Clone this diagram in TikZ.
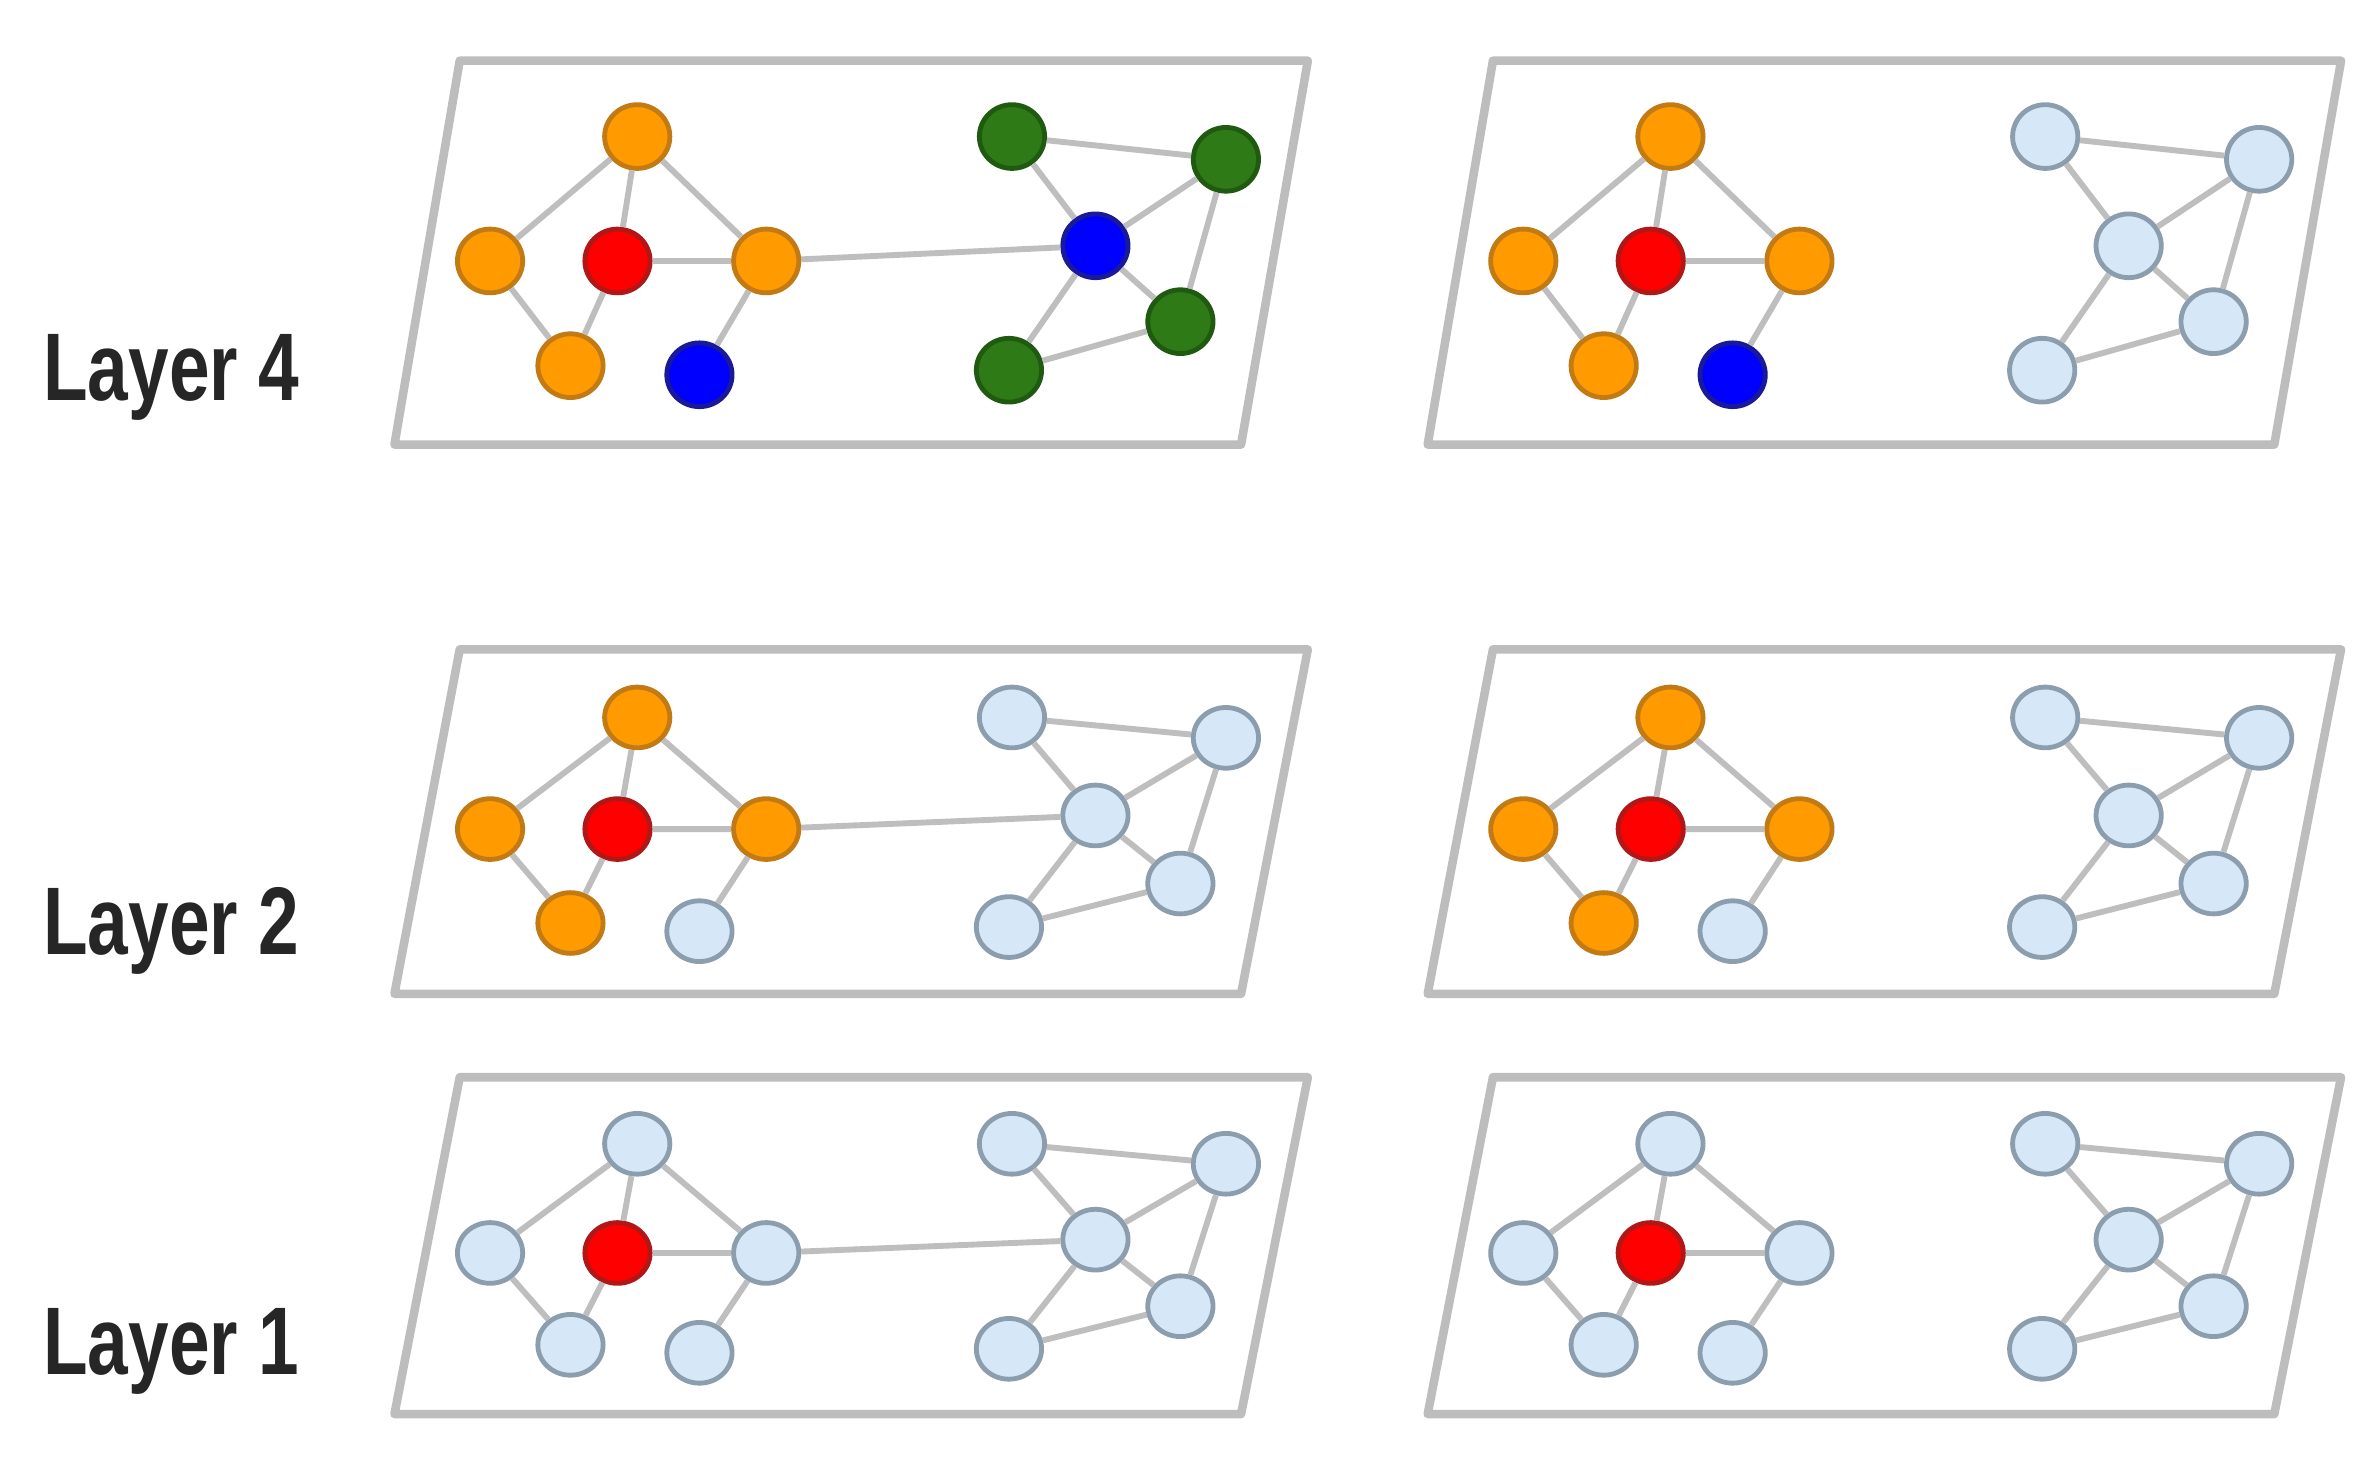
\documentclass[tikz,border=0pt]{standalone}
\usepackage{fontspec}
\setmainfont{Liberation Sans}
\usetikzlibrary{shapes.geometric}
\definecolor{orangeC}{HTML}{FF9A00}
\definecolor{orangeD}{HTML}{C27A14}
\definecolor{redC}{HTML}{FF0000}
\definecolor{redD}{HTML}{B01818}
\definecolor{blueC}{HTML}{0000FF}
\definecolor{blueD}{HTML}{1A1A99}
\definecolor{greenC}{HTML}{2E7A17}
\definecolor{greenD}{HTML}{1F5A10}
\definecolor{lightC}{HTML}{D6E7F7}
\definecolor{lightD}{HTML}{8C9DAE}
\definecolor{edgegray}{HTML}{BEBEBE}
\definecolor{planegray}{HTML}{BDBDBD}
\tikzset{
  gnode/.style={ellipse, draw, line width=0.9pt, inner sep=0pt, minimum width=0.43cm},
  orangen/.style={gnode, fill=orangeC, draw=orangeD},
  redn/.style={gnode, fill=redC, draw=redD},
  bluen/.style={gnode, fill=blueC, draw=blueD},
  greenn/.style={gnode, fill=greenC, draw=greenD},
  lightn/.style={gnode, fill=lightC, draw=lightD},
  edge/.style={draw=edgegray, line width=1.1pt},
  plane/.style={draw=planegray, line width=1.6pt, line join=round},
  layerlabel/.style={font=\bfseries\fontsize{18}{20}\selectfont, xscale=0.76, anchor=base west, inner sep=0pt, text=black!85}
}
\newcommand{\graphpanel}[9]{%
  \draw[plane] (#2,#3) -- ({#2+559},#3) -- ({#2+515},{#3+#4}) -- ({#2-43},{#3+#4}) -- cycle;
  \node[#5, minimum height=#9] (#1A) at ({#2+117},{#3+#4/253*50}) {};
  \node[#5, minimum height=#9] (#1B) at ({#2+20},{#3+#4/253*132}) {};
  \node[redn, minimum height=#9] (#1R) at ({#2+104},{#3+#4/253*132}) {};
  \node[#5, minimum height=#9] (#1C) at ({#2+202},{#3+#4/253*132}) {};
  \node[#5, minimum height=#9] (#1D) at ({#2+73},{#3+#4/253*201}) {};
  \node[#6, minimum height=#9] (#1E) at ({#2+158},{#3+#4/253*207}) {};
  \node[#7, minimum height=#9] (#1F) at ({#2+364},{#3+#4/253*50}) {};
  \node[#7, minimum height=#9] (#1G) at ({#2+505},{#3+#4/253*65}) {};
  \node[#8, minimum height=#9] (#1H) at ({#2+419},{#3+#4/253*122}) {};
  \node[#7, minimum height=#9] (#1I) at ({#2+475},{#3+#4/253*172}) {};
  \node[#7, minimum height=#9] (#1J) at ({#2+362},{#3+#4/253*204}) {};
  \draw[edge] (#1A)--(#1B) (#1A)--(#1R) (#1A)--(#1C) (#1B)--(#1D) (#1R)--(#1D)
    (#1R)--(#1C) (#1C)--(#1E) (#1F)--(#1G) (#1F)--(#1H) (#1H)--(#1G)
    (#1G)--(#1I) (#1H)--(#1I) (#1H)--(#1J) (#1J)--(#1I);
}
\begin{document}
\begin{tikzpicture}[x=0.01cm, y=-0.01cm]
\useasboundingbox (0,0) rectangle (1568,978);
\fill[white] (0,0) rectangle (1568,978);

\graphpanel{tl}{303}{40}{253}{orangen}{bluen}{greenn}{bluen}{0.42cm}
\draw[edge] (tlC) -- (tlH);
\graphpanel{tr}{984}{40}{253}{orangen}{bluen}{lightn}{lightn}{0.42cm}

\graphpanel{ml}{303}{428}{227}{orangen}{lightn}{lightn}{lightn}{0.40cm}
\draw[edge] (mlC) -- (mlH);
\graphpanel{mr}{984}{428}{227}{orangen}{lightn}{lightn}{lightn}{0.40cm}

\graphpanel{bl}{303}{710}{222}{lightn}{lightn}{lightn}{lightn}{0.40cm}
\draw[edge] (blC) -- (blH);
\graphpanel{br}{984}{710}{222}{lightn}{lightn}{lightn}{lightn}{0.40cm}

\node[layerlabel] (l4) at (28,264) {Layer 4};
\node[layerlabel] (l2) at (28,629) {Layer 2};
\node[layerlabel] (l1) at (28,906) {Layer 1};
\end{tikzpicture}
\end{document}
